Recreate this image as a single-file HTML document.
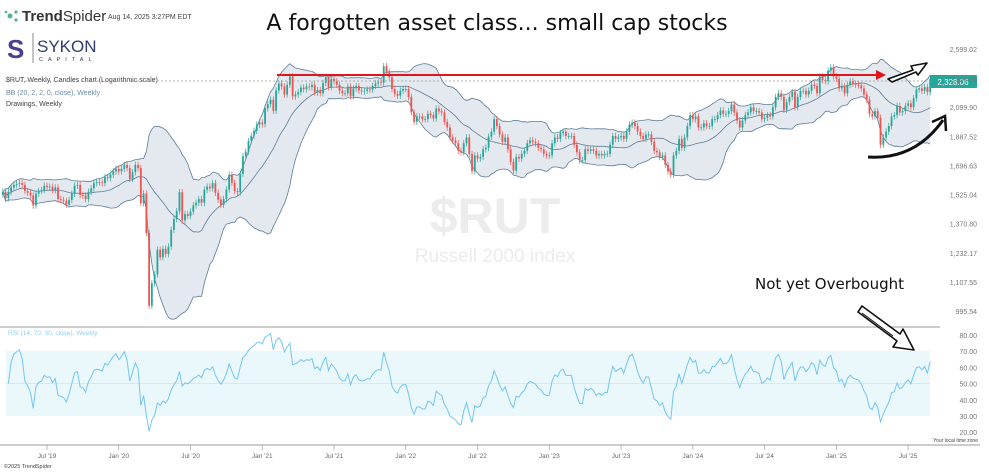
<!DOCTYPE html>
<html><head><meta charset="utf-8">
<style>
html,body{margin:0;padding:0;background:#fff;}
body{width:989px;height:474px;overflow:hidden;position:relative;font-family:"Liberation Sans",sans-serif;}
</style></head>
<body>
<svg id="chart" width="989" height="474" viewBox="0 0 989 474" xmlns="http://www.w3.org/2000/svg" style="position:absolute;left:0;top:0">
  <g>
    <circle cx="10" cy="16" r="2.5" fill="#4fb39a"/><circle cx="16" cy="12" r="1.6" fill="#4fb39a"/><circle cx="16" cy="20" r="1.6" fill="#4fb39a"/><circle cx="6" cy="12" r="1.3" fill="#4fb39a"/>
    <text x="22" y="21" font-size="15" font-weight="bold" fill="#333">Trend<tspan font-weight="normal">Spider</tspan></text>
    <text x="108" y="19" font-size="7" fill="#444">Aug 14, 2025 3:27PM EDT</text>
    <text x="7" y="58" font-size="26" font-weight="bold" fill="#4b3f8f">S</text>
    <line x1="33" y1="33" x2="33" y2="63" stroke="#888" stroke-width="1"/>
    <text x="37" y="52" font-size="17" fill="#2d3e6b">SYKON</text>
    <text x="39" y="61" font-size="5.5" fill="#2d3e6b" letter-spacing="5">CAPITAL</text>
    <text x="497" y="30" font-size="22" text-anchor="middle" fill="#111" font-family="DejaVu Sans, sans-serif">A forgotten asset class... small cap stocks</text>
    <text x="6" y="82" font-size="7" fill="#444">$RUT, Weekly, Candles chart (Logarithmic scale)</text>
    <text x="6" y="95" font-size="7" fill="#6a8aa8">BB (20, 2, 2, 0, close), Weekly</text>
    <text x="6" y="106" font-size="7" fill="#444">Drawings, Weekly</text>
  </g>
  <g>
    <text x="495" y="233" font-size="50" font-weight="bold" fill="#ececec" text-anchor="middle">$RUT</text>
    <text x="495" y="262" font-size="19" fill="#ececec" text-anchor="middle">Russell 2000 index</text>
  </g>
  <rect x="6" y="351" width="924" height="65" fill="#eaf7fb"/>
  <line x1="6" y1="383.5" x2="930" y2="383.5" stroke="#d6e8f2" stroke-width="1"/>
  <g id="bands"></g>
  <g id="candles"></g>
  <g id="rsi"></g>
  <line x1="5" y1="81" x2="930" y2="81" stroke="#999" stroke-dasharray="2,2" stroke-width="0.8"/>
  <rect x="930" y="75" width="47" height="13" rx="1" fill="#26a69a"/>
  <text x="953" y="85" font-size="8" fill="#fff" text-anchor="middle">2,328.06</text>
  <line x1="0" y1="327" x2="940" y2="327" stroke="#ccc" stroke-width="2"/>
  <line x1="0" y1="445" x2="980" y2="445" stroke="#ccc" stroke-width="2"/>
  <g id="axes"></g>
  <text x="978" y="442" font-size="5" fill="#444" text-anchor="end">Your local time zone</text>
  <text x="4" y="468" font-size="5.5" fill="#444">©2025 TrendSpider</text>
  <g>
    <line x1="277" y1="75" x2="878" y2="75" stroke="#e0161c" stroke-width="2"/>
    <polygon points="876,70 886,75 876,80" fill="#e0161c"/>
    <polygon points="888,79 913,70 911,66 927,63 918,75 916,72 892,82" fill="#fff" stroke="#111" stroke-width="1.6" stroke-linejoin="round"/>
    <path d="M868,157 Q915,160 943,120" fill="none" stroke="#111" stroke-width="3"/>
    <path d="M932,122 L945,116 L946,131" fill="none" stroke="#111" stroke-width="2.5"/>
    <text x="755" y="289" font-size="15" fill="#111" font-family="DejaVu Sans, sans-serif">Not yet Overbought</text>
    <polygon points="858,312 862,306 900,334 903,329 914,350 893,347 897,341" fill="#fff" stroke="#111" stroke-width="1.6" stroke-linejoin="round"/>
    <line x1="862" y1="313" x2="893" y2="336" stroke="#111" stroke-width="1"/>
  </g>
</svg>
<script>
const closes=[1540,1505,1540,
1565,1580,1585,1590,1580,1545,1535,1520,1465,1530,1545,1550,1575,1567,1570,1550,1565,1500,1495,1490,1470,1495,1530,1575,1580,1523,1520,1500,1540,1560,1590,1596,1594,1590,1625,1620,1640,1660,1675,
1660,1675,1700,1680,1615,1655,1700,1680,1478,1530,1325,1015,1102,1138,1246,1212,1250,1226,1260,1340,1394,1435,1538,1387,1420,1410,1433,1466,1480,1500,1480,1552,1570,1560,1590,1535,1497,1470,1500,1553,1640,1592,1545,1538,1645,1755,1785,1855,1892,1926,1970,1985,1974,
2091,2124,2159,2073,2233,2290,2266,2200,2280,2350,2185,2200,2220,2256,2243,2265,2260,2280,2216,2236,2210,2295,2346,2260,2330,2310,2280,2230,2210,2210,2265,2186,2250,2270,2233,2225,2230,2241,2240,2270,2290,2300,2297,2440,2390,2345,2245,2205,2190,2230,2245,2245,
2180,2060,1990,2030,2030,2010,2010,2050,2040,2015,2090,2070,2060,1990,1950,1880,1860,1840,1790,1780,1840,1880,1770,1660,1760,1740,1750,1800,1810,1885,1920,2010,1960,1900,1850,1880,1800,1720,1665,1750,1740,1770,1790,1840,1860,1850,1840,1810,1800,1770,1760,1761,
1840,1880,1870,1910,1920,1890,1890,1890,1830,1780,1730,1730,1800,1790,1800,1790,1760,1770,1760,1770,1770,1830,1890,1870,1880,1890,1870,1920,1970,1985,1960,1920,1890,1870,1900,1900,1850,1790,1780,1750,1760,1700,1660,1640,1760,1790,1870,1810,1880,1960,2040,2010,2030,
1950,1950,1980,1960,1960,2010,2010,2040,2075,2050,2050,2070,2120,2060,2000,1950,2000,2040,2060,2100,2070,2070,2060,2010,2020,2040,2030,2100,2180,2210,2180,2080,2140,2180,2220,2100,2180,2230,2230,2200,2230,2280,2270,2210,2350,2320,2310,2400,2430,2350,2330,2250,
2270,2210,2280,2310,2290,2280,2275,2250,2200,2160,2050,2030,2070,2020,1830,1880,1920,1960,2030,2040,2110,2060,2070,2110,2130,2100,2170,2240,2250,2230,2260,2220,2328];
const priceTicks=[2599.02,2328.06,2099.90,1887.52,1696.63,1525.04,1370.80,1232.17,1107.55,995.54];
const rsiTicks=[80,70,60,50,40,30,20];
const timeLabels=["Jul '19","Jan '20","Jul '20","Jan '21","Jul '21","Jan '22","Jul '22","Jan '23","Jul '23","Jan '24","Jul '24","Jan '25","Jul '25"];
const timeIdx=[16,42,68,94,120,146,172,198,224,250,276,302,328];

const NS="http://www.w3.org/2000/svg";
const X=i=>2.84+i*2.76;
const Y=p=>49+273*Math.log(2599.02/p);
const RY=v=>335+(80-v)*1.62;
function mk(tag,attrs,parent){const e=document.createElementNS(NS,tag);for(const k in attrs)e.setAttribute(k,attrs[k]);parent.appendChild(e);return e;}
const n=closes.length;
// Bollinger
const up=[],mid=[],lo=[];
for(let i=0;i<n;i++){const s=Math.max(0,i-19);const w=closes.slice(s,i+1);const m=w.reduce((a,b)=>a+b,0)/w.length;const sd=Math.sqrt(w.reduce((a,b)=>a+(b-m)*(b-m),0)/w.length);mid.push(m);up.push(m+2*sd);lo.push(m-2*sd);}
const bg=document.getElementById('bands');
let d="M"+up.map((v,i)=>X(i).toFixed(1)+","+Y(v).toFixed(1)).join("L");
for(let i=n-1;i>=0;i--)d+="L"+X(i).toFixed(1)+","+Y(lo[i]).toFixed(1);
const bf=mk('path',{d:d+"Z",fill:"#e4e9ef",stroke:"none"},bg);


[[up,'bollinger-upper'],[mid,'bollinger-middle'],[lo,'bollinger-lower']].forEach(([a,nm])=>{
const p=mk('path',{d:"M"+a.map((v,i)=>X(i).toFixed(1)+","+Y(v).toFixed(1)).join("L"),fill:"none",stroke:"#5d7c98","stroke-width":"0.8"},bg);


});
// candles
const cg=document.getElementById('candles');
for(let i=0;i<n;i++){const o=i?closes[i-1]:closes[0]*0.99,c=closes[i];const col=c>=o?"#26a69a":"#ef5350";
const hi=Math.max(o,c)*1.012,lw=Math.min(o,c)*0.988;
const g=mk('g',{},cg);


mk('line',{x1:X(i),x2:X(i),y1:Y(hi),y2:Y(lw),stroke:col,"stroke-width":"0.7"},g);
const t=Y(Math.max(o,c)),b=Y(Math.min(o,c));
mk('rect',{x:X(i)-0.9,y:t,width:1.8,height:Math.max(0.8,b-t),fill:col},g);}
// RSI
const rsi=[];let ag=0,al=0;
for(let i=1;i<n;i++){const ch=closes[i]-closes[i-1];const g=Math.max(ch,0),l=Math.max(-ch,0);
if(i<=14){ag+=g/14;al+=l/14;}else{ag=(ag*13+g)/14;al=(al*13+l)/14;}
const k=Math.min(i,14)/14;rsi.push([i,al===0?100:100-100/(1+(ag/k)/(al/k))]);}
const rl=mk('path',{d:"M"+rsi.slice(1).map(([i,v])=>X(i).toFixed(1)+","+RY(v).toFixed(1)).join("L"),fill:"none",stroke:"#74c6f0","stroke-width":"1"},document.getElementById('rsi'));


// axes
const ax=document.getElementById('axes');
priceTicks.forEach(p=>{const t=mk('text',{x:977,y:Y(p)+3,"font-size":"7",fill:"#777","text-anchor":"end"},ax);t.textContent=p.toLocaleString('en-US',{minimumFractionDigits:2});

});
mk('text',{x:8,y:335,"font-size":"6.5",fill:"#8cd0f0"},ax).textContent="RSI (14, 70, 30, close), Weekly";
rsiTicks.forEach(v=>{const t=mk('text',{x:977,y:RY(v)+3,"font-size":"7",fill:"#777","text-anchor":"end"},ax);t.textContent=v.toFixed(2);

});
timeLabels.forEach((l,j)=>{const x=X(timeIdx[j]);mk('line',{x1:x,x2:x,y1:445,y2:450,stroke:"#aaa","stroke-width":"0.8"},ax);
const t=mk('text',{x:x,y:458,"font-size":"6.5",fill:"#666","text-anchor":"middle"},ax);t.textContent=l;

});
</script>
</body></html>
